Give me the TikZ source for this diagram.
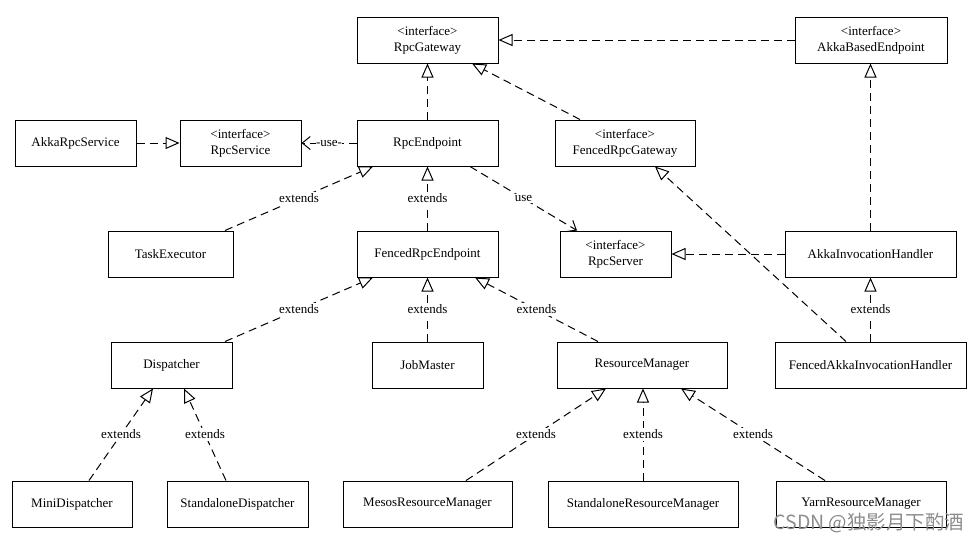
\documentclass[tikz,border=0pt]{standalone}
\usepackage{fontspec}
\setmainfont{Liberation Serif}
\newfontfamily\cjk{Noto Sans CJK SC}
\usetikzlibrary{arrows.meta}
\begin{document}
\begin{tikzpicture}[x=1pt,y=-1pt,
  box/.style={draw,line width=1pt,minimum height=46pt,inner sep=0pt,font=\fontsize{13}{16}\selectfont,align=center},
  dep/.style={draw,line width=1pt,dash pattern=on 8pt off 5pt,-{Triangle[open,length=14pt,width=12pt]}},
  usearr/.style={draw,line width=1pt,dash pattern=on 8pt off 5pt,-{Straight Barb[length=8pt,width=13pt]}},
  lbl/.style={fill=white,inner sep=1.5pt,font=\fontsize{13}{15}\selectfont}]
\useasboundingbox (0,0) rectangle (978,542);
\fill[white] (0,0) rectangle (978,542);
% row 1
\node[box,minimum width=141pt] (gw) at (427.5,40) {<interface>\\RpcGateway};
\node[box,minimum width=152pt] (abe) at (871,40) {<interface>\\AkkaBasedEndpoint};
% row 2
\node[box,minimum width=121pt] (ars) at (75.5,143) {AkkaRpcService};
\node[box,minimum width=121pt] (rs) at (240.5,143) {<interface>\\RpcService};
\node[box,minimum width=141pt] (re) at (427.5,143) {RpcEndpoint};
\node[box,minimum width=140pt] (frg) at (625,143) {<interface>\\FencedRpcGateway};
% row 3
\node[box,minimum width=125pt] (te) at (170.5,254) {TaskExecutor};
\node[box,minimum width=141pt] (fre) at (427.5,254) {FencedRpcEndpoint};
\node[box,minimum width=111pt] (rsv) at (615.5,254) {<interface>\\RpcServer};
\node[box,minimum width=171pt] (aih) at (870.5,254) {AkkaInvocationHandler};
% row 4
\node[box,minimum width=121pt] (disp) at (171.5,365) {Dispatcher};
\node[box,minimum width=111pt] (jm) at (427.5,365) {JobMaster};
\node[box,minimum width=170pt] (rm) at (642,365) {ResourceManager};
\node[box,minimum width=191pt] (faih) at (870.5,365) {FencedAkkaInvocationHandler};
% row 5
\node[box,minimum width=120pt] (md) at (72,504) {MiniDispatcher};
\node[box,minimum width=141pt] (sd) at (237.5,504) {StandaloneDispatcher};
\node[box,minimum width=169pt] (mrm) at (427.5,504) {MesosResourceManager};
\node[box,minimum width=190pt] (srm) at (643,504) {StandaloneResourceManager};
\node[box,minimum width=170pt] (yrm) at (861,504) {YarnResourceManager};
% edges
\draw[dep] (abe.west) -- (gw.east);
\draw[dep] (re.north) -- (gw.south);
\draw[dep] ([xshift=-45pt]frg.north) -- ([xshift=44.5pt]gw.south);
\draw[dep] (ars.east) -- (rs.west);
\draw[usearr] (re.west) -- node[lbl,inner sep=0pt] {-use-} (rs.east);
\draw[dep] ([xshift=54.5pt]te.north) -- node[lbl] {extends} ([xshift=-54.5pt]re.south);
\draw[dep] (fre.north) -- node[lbl] {extends} (re.south);
\draw[usearr] ([xshift=42.5pt]re.south) -- node[lbl] {use} ([xshift=-38.5pt]rsv.north);
\draw[dep] (aih.west) -- (rsv.east);
\draw[dep] (aih.north) -- (aih.north |- abe.south);
\draw[dep] ([xshift=-24.5pt]faih.north) -- ([xshift=30pt]frg.south);
\draw[dep] (faih.north) -- node[lbl] {extends} (aih.south);
\draw[dep] ([xshift=53.5pt]disp.north) -- node[lbl] {extends} ([xshift=-54.5pt]fre.south);
\draw[dep] (jm.north) -- node[lbl] {extends} (fre.south);
\draw[dep] ([xshift=-44pt]rm.north) -- node[lbl] {extends} ([xshift=47.5pt]fre.south);
\draw[dep] ([xshift=17pt]md.north) -- node[lbl] {extends} ([xshift=-18.5pt]disp.south);
\draw[dep] ([xshift=-11.5pt]sd.north) -- node[lbl] {extends} ([xshift=12.5pt]disp.south);
\draw[dep] ([xshift=38.5pt]mrm.north) -- node[lbl] {extends} ([xshift=-36pt]rm.south);
\draw[dep] (srm.north) -- node[lbl] {extends} (srm.north |- rm.south);
\draw[dep] ([xshift=-36pt]yrm.north) -- node[lbl] {extends} ([xshift=39pt]rm.south);
% watermark
\node[text=black!45,font=\cjk\fontsize{19.5}{22}\selectfont,inner sep=0pt] (wm) at (869,523) {CSDN @独影月下酌酒};
\end{tikzpicture}
\end{document}
